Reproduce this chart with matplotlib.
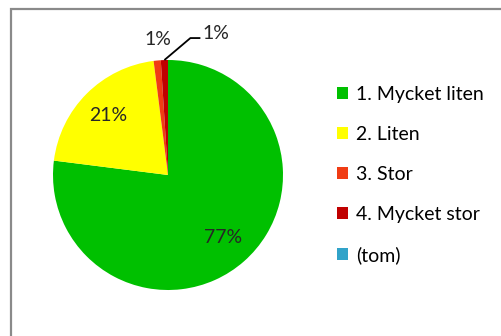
import matplotlib.pyplot as plt
import numpy as np
from matplotlib.patches import Rectangle

categories = ['1. Mycket liten', '2. Liten', '3. Stor', '4. Mycket stor', '(tom)']
values = [77, 21, 1, 1, 0]
colors = ['#00c000', '#ffff00', '#f03c14', '#c00000', '#31a3c9']

plt.rcParams['font.family'] = ['Lato', 'DejaVu Sans']

W, H = 501, 336
fig = plt.figure(figsize=(W / 100, H / 100), dpi=100)
ax = fig.add_axes([0, 0, 1, 1])

cx, cy, r = 168, H - 175, 115
fs = 14


def pct_text(p):
    return f'{p:.0f}%' if p >= 5 else ''


wedges, texts, autotexts = ax.pie(values, colors=colors, startangle=90, counterclock=False,
                                  center=(cx, cy), radius=r, autopct=pct_text,
                                  pctdistance=0.73, textprops=dict(fontsize=fs, color='#262626'))

ax.set_xlim(0, W)
ax.set_ylim(0, H)
ax.set_axis_off()

# small slices: label 3 sits above the pie, label 4 gets a leader line
w3, w4 = wedges[2], wedges[3]
a3 = np.deg2rad((w3.theta1 + w3.theta2) / 2)
ax.text(cx + 1.18 * r * np.cos(a3) + 3, cy + 1.18 * r * np.sin(a3), f'{values[2]}%',
        ha='center', va='center', fontsize=fs, color='#262626')

a4 = np.deg2rad((w4.theta1 + w4.theta2) / 2)
px, py = cx + r * np.cos(a4), cy + r * np.sin(a4)
knee = (px + 26, py + 22)
ax.plot([px, knee[0], knee[0] + 10], [py, knee[1], knee[1]], color='black', lw=1.3,
        solid_capstyle='butt')
ax.text(knee[0] + 12, knee[1] + 5, f'{values[3]}%', ha='left', va='center',
        fontsize=fs, color='#262626')

fig.legend(wedges, categories, loc='upper left', bbox_to_anchor=(337 / W, 1 - 86 / H),
           frameon=False, fontsize=fs, handlelength=0.55, handleheight=0.55,
           handletextpad=0.45, labelspacing=1.18, borderpad=0, borderaxespad=0)

# chart area frame
ax.add_patch(Rectangle((11, -20), 600, H - 9 + 20, fill=False, edgecolor='#8a8a8a',
                       lw=1.6, clip_on=False))

fig.savefig('out.png', dpi=100)
